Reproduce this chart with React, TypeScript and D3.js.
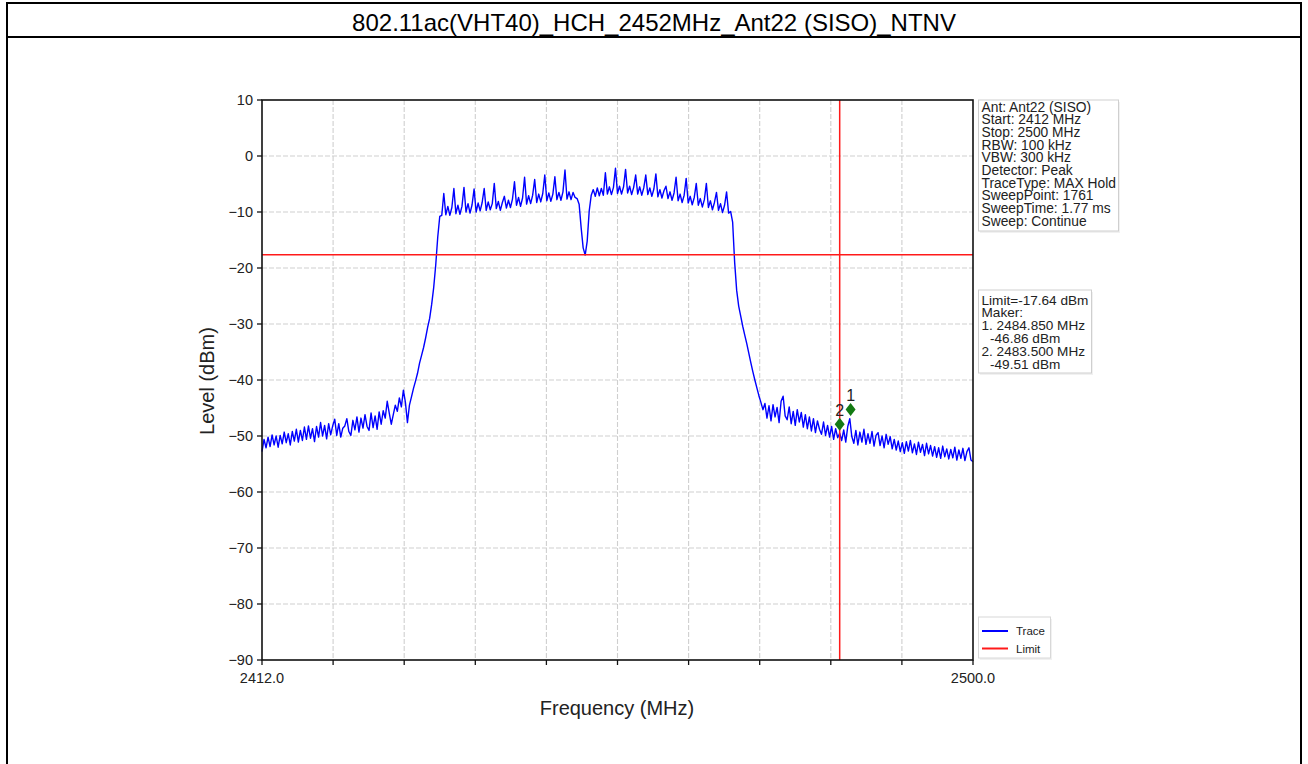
import React from "react";
import * as d3 from "d3";

const titleText = "802.11ac(VHT40)_HCH_2452MHz_Ant22 (SISO)_NTNV";

const infoLines = [
  "Ant: Ant22 (SISO)",
  "Start: 2412 MHz",
  "Stop: 2500 MHz",
  "RBW: 100 kHz",
  "VBW: 300 kHz",
  "Detector: Peak",
  "TraceType: MAX Hold",
  "SweepPoint: 1761",
  "SweepTime: 1.77 ms",
  "Sweep: Continue",
];

const markerLines = [
  { text: "Limit=-17.64 dBm", indent: false },
  { text: "Maker:", indent: false },
  { text: "1. 2484.850 MHz", indent: false },
  { text: "-46.86 dBm", indent: true },
  { text: "2. 2483.500 MHz", indent: false },
  { text: "-49.51 dBm", indent: true },
];

const yTicks = [10, 0, -10, -20, -30, -40, -50, -60, -70, -80, -90];
const xTicks = [2412, 2420.8, 2429.6, 2438.4, 2447.2, 2456, 2464.8, 2473.6, 2482.4, 2491.2, 2500];
const xTickLabels = [
  { value: 2412, label: "2412.0" },
  { value: 2500, label: "2500.0" },
];

const limitLevel = -17.64;
const cursorFreq = 2483.5;
const markerNames = ["1", "2"];
const markerFreqs = [2484.85, 2483.5];
const markerLevels = [-46.86, -49.51];

// trace samples, one every 0.25 MHz from 2412 MHz
const sweepStart = 2412;
const sweepStep = 0.25;

const lowerFloor = [
  -52.8, -50.6, -52.1, -50.2, -51.9, -49.8, -51.6, -50.0, -52.0, -49.9,
  -51.4, -49.3, -51.2, -49.6, -51.6, -49.2, -50.9, -48.8, -51.1, -49.0,
  -50.8, -48.4, -50.6, -48.2, -50.4, -48.7, -51.0, -48.3, -50.2, -47.6,
  -50.0, -48.1, -50.5, -47.8, -49.8, -48.2, -47.0, -49.9, -47.8, -50.2,
  -48.6, -48.2, -46.9, -49.2, -49.9, -47.2, -48.9, -46.6, -49.3, -46.8,
  -48.6, -46.2, -48.3, -49.0, -45.9, -48.5, -46.4, -48.8, -45.7, -47.9,
  -45.5, -46.8, -43.8, -45.9, -47.9, -46.2, -44.5, -45.6, -43.2, -44.8,
  -41.8, -44.0, -47.6, -44.5, -43.0, -41.5,
];

const lowerSkirt = [
  -40.2, -38.8, -37.0, -35.6, -34.2, -32.5, -30.6, -29.0, -26.5, -23.5,
  -19.5, -14.5, -10.8,
];

const inBand = [
  -10.6, -6.7,
  -10.5, -9.0, -10.6, -9.2, -5.8, -10.3, -8.8, -10.4, -9.0, -5.6,
  -10.0, -8.5, -10.2, -8.7, -5.9, -10.0, -8.4, -9.8, -8.3, -5.8,
  -9.7, -8.2, -9.6, -8.5, -4.9, -9.4, -8.1, -9.7, -8.3, -7.2,
  -9.3, -7.9, -9.2, -7.7, -4.6, -8.8, -7.4, -9.0, -7.5, -3.8,
  -8.6, -7.1, -8.5, -7.0, -4.2, -8.3, -6.8, -8.2, -6.7, -3.4,
  -8.0, -6.6, -8.1, -6.8, -3.7, -7.8, -6.5, -7.9, -6.4, -2.5,
  -7.7, -6.4, -7.8, -6.5, -7.4, -7.6, -8.6, -12.8, -16.4, -17.7,
  -15.2, -9.8, -7.0, -6.0, -7.2, -5.7, -7.1, -5.8, -7.0, -3.0,
  -6.8, -5.5, -6.9, -5.6, -2.2, -6.7, -5.4, -6.8, -5.5, -2.4,
  -6.6, -5.4, -6.9, -5.6, -3.4, -6.8, -5.5, -7.0, -5.7, -3.4,
  -6.9, -5.7, -7.2, -5.9, -3.2, -7.3, -6.0, -7.5, -6.2, -5.4,
  -7.6, -6.4, -7.9, -6.6, -3.8, -8.0, -6.8, -8.3, -7.0, -4.0,
  -8.4, -7.2, -8.7, -7.4, -4.9, -8.8, -7.6, -9.1, -7.8, -4.9,
  -9.2, -8.0, -9.6, -8.3, -6.5, -9.7, -8.5, -10.1, -8.8, -6.4,
  -10.2, -9.9, -11.8,
];

const upperSkirt = [
  -19.0, -24.0, -26.8, -28.6, -30.4, -32.0, -33.5, -35.2, -36.9, -38.5,
  -40.0, -41.4, -42.8, -44.0, -45.3,
];

const upperFloor = [
  -44.2, -46.8, -44.6, -47.3, -44.4, -46.6, -44.9, -47.6, -43.8, -42.9, -46.4,
  -47.1, -44.8, -47.8, -45.6, -48.1, -45.3, -47.5, -45.8, -48.4, -46.2,
  -48.7, -46.6, -49.1, -46.9, -49.4, -47.3, -48.8, -49.7, -47.5, -49.9,
  -48.1, -50.2, -48.3, -50.6, -48.7, -50.3, -49.5, -50.8, -48.9, -51.1,
  -48.3, -46.9, -50.1, -51.3, -49.0, -51.6, -49.3, -51.1, -48.8, -51.5,
  -49.6, -51.3, -49.2, -51.8, -49.9, -49.4, -51.7, -50.0, -52.1, -49.7,
  -51.5, -50.1, -52.3, -50.6, -52.5, -50.9, -52.8, -51.2, -53.1, -51.0,
  -52.7, -50.8, -53.0, -51.4, -53.3, -51.1, -52.9, -51.5, -53.5, -51.3,
  -53.2, -51.7, -53.6, -51.9, -53.8, -52.1, -54.0, -51.8, -53.7, -52.3,
  -54.1, -52.4, -53.9, -52.0, -54.3, -52.5, -54.0, -52.2, -54.4, -52.8,
  -52.1, -54.3, -54.6,
];

const FONT = "'Liberation Sans', Arial, sans-serif";

export default function App() {
  const width = 1308;
  const height = 764;
  const plot = { left: 262, right: 973, top: 100, bottom: 660 };

  const x = d3.scaleLinear().domain([2412, 2500]).range([plot.left, plot.right]);
  const y = d3.scaleLinear().domain([-90, 10]).range([plot.bottom, plot.top]);

  const levels = [...lowerFloor, ...lowerSkirt, ...inBand, ...upperSkirt, ...upperFloor];
  const trace: [number, number][] = levels.map((v, i) => [sweepStart + i * sweepStep, v]);

  const line = d3
    .line<[number, number]>()
    .x((d) => x(d[0]))
    .y((d) => y(d[1]));

  const fmt = (v: number) => (v < 0 ? "\u2212" + Math.abs(v) : String(v));

  return (
    <svg
      width={width}
      height={height}
      style={{ position: "absolute", left: 0, top: 0, display: "block", background: "#fff" }}
      fontFamily={FONT}
    >
      {/* outer frame */}
      <line x1={7} x2={1301} y1={3} y2={3} stroke="#000" strokeWidth={2} />
      <line x1={7} x2={1301} y1={37} y2={37} stroke="#000" strokeWidth={2} />
      <line x1={7} x2={7} y1={2} y2={764} stroke="#000" strokeWidth={2} />
      <line x1={1301} x2={1301} y1={2} y2={764} stroke="#000" strokeWidth={2} />
      <text x={654} y={30.5} textAnchor="middle" fontSize={24} fill="#000">
        {titleText}
      </text>

      {/* grid */}
      <g stroke="#cfcfcf" strokeWidth={1.1} strokeDasharray="5,2">
        {xTicks.slice(1, -1).map((t) => (
          <line key={"gx" + t} x1={x(t)} x2={x(t)} y1={plot.top} y2={plot.bottom} />
        ))}
        {yTicks.slice(1, -1).map((t) => (
          <line key={"gy" + t} x1={plot.left} x2={plot.right} y1={y(t)} y2={y(t)} />
        ))}
      </g>

      {/* trace */}
      <path d={line(trace) || ""} fill="none" stroke="#0000ff" strokeWidth={1.4} strokeLinejoin="round" />

      {/* limit and cursor */}
      <line x1={plot.left} x2={plot.right} y1={y(limitLevel)} y2={y(limitLevel)} stroke="#ff1a1a" strokeWidth={1.5} />
      <line x1={x(cursorFreq)} x2={x(cursorFreq)} y1={plot.top} y2={plot.bottom} stroke="#ff1a1a" strokeWidth={1.5} />

      {/* markers */}
      {markerFreqs.map((f, i) => {
        const cx = x(f);
        const cy = y(markerLevels[i]) - 9;
        return (
          <g key={"m" + i}>
            <path
              d={`M${cx},${cy - 6.5} L${cx + 5},${cy} L${cx},${cy + 6.5} L${cx - 5},${cy} Z`}
              fill="#137a13"
            />
            <text x={cx} y={cy - 8} textAnchor="middle" fontSize={16} fill="#222">
              {markerNames[i]}
            </text>
          </g>
        );
      })}

      {/* spines */}
      <rect
        x={plot.left}
        y={plot.top}
        width={plot.right - plot.left}
        height={plot.bottom - plot.top}
        fill="none"
        stroke="#111"
        strokeWidth={1.6}
      />

      {/* y axis */}
      {yTicks.map((t) => (
        <g key={"yt" + t}>
          <line x1={plot.left - 5} x2={plot.left} y1={y(t)} y2={y(t)} stroke="#111" strokeWidth={1.3} />
          <text x={plot.left - 9} y={y(t) + 5} textAnchor="end" fontSize={14.5} fill="#222">
            {fmt(t)}
          </text>
        </g>
      ))}

      {/* x axis */}
      {xTicks.map((t) => (
        <line key={"xt" + t} x1={x(t)} x2={x(t)} y1={plot.bottom} y2={plot.bottom + 5} stroke="#111" strokeWidth={1.3} />
      ))}
      {xTickLabels.map((t) => (
        <text key={"xl" + t.value} x={x(t.value)} y={plot.bottom + 23} textAnchor="middle" fontSize={14.5} fill="#222">
          {t.label}
        </text>
      ))}

      <text x={617} y={715} textAnchor="middle" fontSize={20} fill="#222">
        Frequency (MHz)
      </text>
      <text transform="translate(214,381) rotate(-90)" textAnchor="middle" fontSize={20} fill="#222">
        Level (dBm)
      </text>

      {/* info box */}
      <rect x={980} y={102} width={140} height={131} fill="#e8e8e8" opacity={0.6} />
      <rect x={978.5} y={100} width={140} height={131} fill="#fff" stroke="#cfcfcf" strokeWidth={1} />
      {infoLines.map((s, i) => (
        <text key={"il" + i} x={981.5} y={111.5 + i * 12.67} fontSize={13.8} fill="#222">
          {s}
        </text>
      ))}

      {/* marker box */}
      <rect x={980} y={292} width={113} height={83} fill="#e8e8e8" opacity={0.6} />
      <rect x={978.5} y={290} width={113} height={83} fill="#fff" stroke="#cfcfcf" strokeWidth={1} />
      {markerLines.map((s, i) => (
        <text key={"ml" + i} x={s.indent ? 990 : 981.5} y={304.5 + i * 12.8} fontSize={13.6} fill="#222">
          {s.text}
        </text>
      ))}

      {/* legend */}
      <rect x={980} y={619} width={72} height={41} fill="#e8e8e8" opacity={0.6} />
      <rect x={978.5} y={617} width={72} height={41} fill="#fff" stroke="#d8d8d8" strokeWidth={1} />
      <line x1={982} x2={1008} y1={631} y2={631} stroke="#0000ff" strokeWidth={2} />
      <text x={1016} y={635} fontSize={11.5} fill="#222">
        Trace
      </text>
      <line x1={982} x2={1008} y1={648.5} y2={648.5} stroke="#ff1a1a" strokeWidth={2} />
      <text x={1016} y={652.5} fontSize={11.5} fill="#222">
        Limit
      </text>
    </svg>
  );
}
